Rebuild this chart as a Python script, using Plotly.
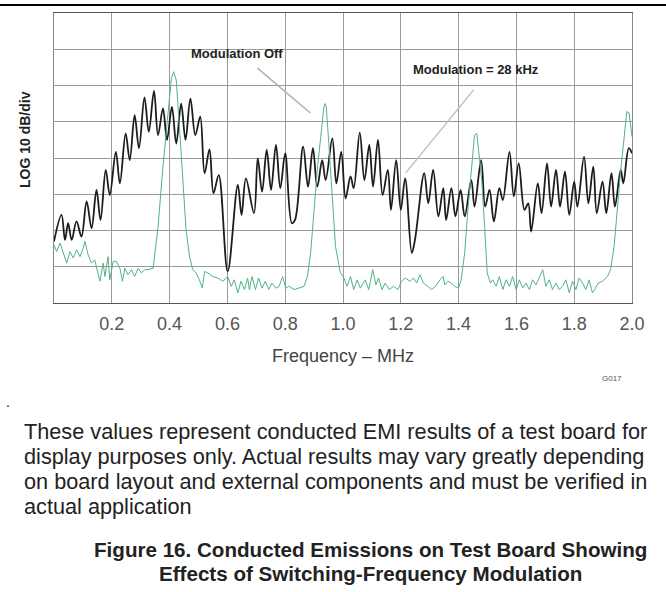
import plotly.graph_objects as go

# ---- data ----
freq_mod = [0.000, 0.026, 0.038, 0.049, 0.061, 0.078, 0.095, 0.113, 0.130, 0.147,
            0.161, 0.179, 0.193, 0.214, 0.228, 0.248, 0.262, 0.279, 0.294, 0.313,
            0.328, 0.346, 0.360, 0.377, 0.391, 0.408, 0.423, 0.440, 0.455, 0.472,
            0.489, 0.506, 0.521, 0.538, 0.552, 0.570, 0.601, 0.636, 0.649, 0.664,
            0.692, 0.705, 0.720, 0.736, 0.751, 0.768, 0.783, 0.800, 0.823, 0.834,
            0.862, 0.879, 0.896, 0.911, 0.928, 0.940, 0.963, 0.977, 0.994, 1.009,
            1.026, 1.037, 1.058, 1.074, 1.091, 1.104, 1.121, 1.137, 1.155, 1.166,
            1.184, 1.200, 1.215, 1.238, 1.249, 1.281, 1.295, 1.312, 1.330, 1.347,
            1.357, 1.375, 1.389, 1.407, 1.421, 1.444, 1.455, 1.478, 1.492, 1.507,
            1.522, 1.541, 1.553, 1.576, 1.591, 1.608, 1.628, 1.641, 1.651, 1.674,
            1.687, 1.706, 1.720, 1.737, 1.751, 1.768, 1.783, 1.800, 1.811, 1.834,
            1.849, 1.866, 1.878, 1.898, 1.911, 1.929, 1.941, 1.961, 1.970, 1.989,
            2.000]
level_mod = [17.0, 24.3, 17.4, 22.0, 17.4, 22.5, 18.3, 28.0, 20.6, 31.2,
             22.9, 36.7, 29.8, 41.7, 33.0, 46.8, 39.4, 51.8, 42.7, 56.7,
             47.2, 58.5, 46.3, 53.7, 45.0, 54.1, 44.0, 55.0, 45.0, 56.4,
             46.3, 51.4, 35.8, 42.4, 30.3, 35.3, 8.7, 32.6, 24.3, 34.4,
             24.8, 39.9, 30.7, 42.2, 31.2, 43.6, 31.7, 41.3, 22.0, 22.9,
             43.1, 32.1, 42.7, 32.1, 39.4, 33.9, 45.4, 33.0, 41.7, 28.9,
             34.9, 31.7, 47.0, 33.9, 43.6, 32.1, 45.0, 29.8, 36.7, 25.7,
             39.4, 25.7, 34.4, 13.8, 17.4, 35.8, 27.5, 36.7, 23.9, 31.7,
             22.9, 31.7, 23.9, 31.2, 23.9, 33.9, 26.6, 39.4, 26.6, 31.2,
             22.5, 31.7, 28.4, 41.7, 29.4, 38.5, 25.7, 27.5, 19.7, 33.0,
             24.8, 38.5, 26.6, 36.7, 26.6, 36.2, 24.3, 33.5, 26.6, 40.4,
             27.5, 37.6, 24.8, 33.5, 24.8, 35.8, 26.6, 36.7, 33.0, 42.7,
             41.3]

freq_off = [0.000, 0.009, 0.021, 0.032, 0.044, 0.055, 0.067, 0.078, 0.090, 0.101,
            0.107, 0.118, 0.130, 0.141, 0.153, 0.159, 0.170, 0.176, 0.187, 0.193,
            0.205, 0.216, 0.228, 0.237, 0.245, 0.256, 0.268, 0.279, 0.291, 0.302,
            0.314, 0.325, 0.343, 0.360, 0.377, 0.394, 0.406, 0.414, 0.423, 0.434,
            0.446, 0.457, 0.469, 0.480, 0.492, 0.503, 0.513, 0.521, 0.532, 0.549,
            0.567, 0.584, 0.601, 0.613, 0.624, 0.636, 0.647, 0.659, 0.670, 0.676,
            0.685, 0.697, 0.708, 0.720, 0.731, 0.743, 0.754, 0.768, 0.779, 0.791,
            0.802, 0.814, 0.831, 0.848, 0.865, 0.877, 0.888, 0.900, 0.911, 0.923,
            0.934, 0.938, 0.942, 0.951, 0.963, 0.974, 0.991, 1.003, 1.014, 1.026,
            1.037, 1.049, 1.060, 1.077, 1.089, 1.103, 1.114, 1.123, 1.135, 1.146,
            1.160, 1.175, 1.190, 1.203, 1.215, 1.232, 1.244, 1.255, 1.266, 1.278,
            1.293, 1.307, 1.320, 1.335, 1.347, 1.352, 1.363, 1.375, 1.386, 1.400,
            1.409, 1.421, 1.432, 1.444, 1.455, 1.463, 1.472, 1.480, 1.490, 1.499,
            1.510, 1.518, 1.530, 1.541, 1.553, 1.564, 1.576, 1.587, 1.599, 1.610,
            1.622, 1.633, 1.645, 1.656, 1.668, 1.679, 1.691, 1.702, 1.714, 1.725,
            1.737, 1.748, 1.760, 1.771, 1.783, 1.794, 1.806, 1.817, 1.829, 1.840,
            1.852, 1.863, 1.871, 1.883, 1.898, 1.915, 1.926, 1.938, 1.949, 1.961,
            1.972, 1.982, 1.990, 2.000]
level_off = [16.0, 14.2, 16.5, 13.8, 11.0, 14.2, 12.4, 14.7, 12.8, 15.1,
             17.0, 13.3, 11.0, 11.9, 8.3, 6.0, 11.0, 7.3, 12.8, 6.4,
             11.5, 11.5, 9.6, 6.0, 9.6, 7.8, 9.2, 7.3, 9.6, 8.3,
             9.2, 9.2, 9.6, 21.0, 37.6, 53.2, 61.9, 63.8, 61.5, 48.6,
             33.0, 20.2, 12.8, 9.2, 8.3, 6.4, 4.1, 8.7, 8.3, 7.3,
             6.9, 6.0, 7.3, 4.6, 6.4, 2.8, 6.0, 3.7, 6.9, 3.7,
             7.3, 3.7, 6.9, 4.1, 6.0, 3.7, 5.5, 4.1, 4.6, 7.3,
             4.1, 4.6, 3.7, 4.1, 4.6, 7.3, 13.8, 25.7, 36.7, 45.9,
             54.1, 55.0, 54.1, 44.0, 28.4, 15.6, 8.3, 6.9, 4.6, 7.3,
             3.7, 6.4, 4.1, 6.4, 3.7, 9.2, 5.0, 6.9, 3.7, 5.5,
             3.7, 4.6, 3.7, 6.0, 6.9, 6.0, 6.9, 5.5, 7.8, 5.5,
             4.6, 3.7, 4.6, 6.4, 7.3, 5.0, 6.0, 5.5, 4.6, 4.1,
             6.4, 13.8, 25.7, 36.7, 46.3, 46.8, 40.8, 33.9, 21.1, 8.3,
             5.5, 6.4, 4.6, 7.3, 3.7, 6.4, 4.6, 7.3, 3.7, 6.4,
             4.1, 5.5, 3.7, 6.4, 5.0, 6.9, 9.2, 4.6, 6.4, 3.7,
             5.5, 3.7, 4.6, 6.4, 2.8, 6.0, 3.7, 6.9, 5.5, 3.7,
             6.4, 2.8, 3.7, 5.5, 6.0, 7.3, 9.2, 15.6, 26.6, 36.7,
             45.0, 52.8, 52.4, 45.9]

tick_vals = [0.2, 0.4, 0.6, 0.8, 1.0, 1.2, 1.4, 1.6, 1.8, 2.0]
tick_text = ["0.2", "0.4", "0.6", "0.8", "1.0", "1.2", "1.4", "1.6", "1.8", "2.0"]

note_lines = [
    "These values represent conducted EMI results of a test board for",
    "display purposes only. Actual results may vary greatly depending",
    "on board layout and external components and must be verified in",
    "actual application",
]
caption_lines = [
    "Figure 16. Conducted Emissions on Test Board Showing",
    "Effects of Switching-Frequency Modulation",
]

# ---- figure ----
W, H = 666, 592
L, R, T, B = 54, 34, 13, 289
PW, PH = W - L - R, H - T - B


def px(x):
    return (x - L) / PW


def py(y):
    return (H - B - y) / PH


FONT = "Liberation Sans, Arial, Helvetica, sans-serif"

fig = go.Figure()
fig.add_trace(go.Scatter(x=freq_mod, y=level_mod, mode="lines",
                         line=dict(color="#1c1c1c", width=1.8, shape="spline", smoothing=1.0),
                         name="Modulation = 28 kHz", hoverinfo="skip"))
fig.add_trace(go.Scatter(x=freq_off, y=level_off, mode="lines",
                         line=dict(color="#52b385", width=1.0),
                         name="Modulation Off", hoverinfo="skip"))

fig.update_layout(
    width=W, height=H, margin=dict(l=L, r=R, t=T, b=B, pad=0),
    paper_bgcolor="white", plot_bgcolor="white", showlegend=False,
    font=dict(family=FONT, color="#222"),
    xaxis=dict(range=[0, 2.0], tickvals=tick_vals, ticktext=tick_text,
               showgrid=True, gridcolor="#9a9a9a", gridwidth=1,
               showline=True, linecolor="#555", linewidth=1, mirror=True,
               ticks="outside", ticklen=4, tickcolor="rgba(0,0,0,0)",
               tickfont=dict(size=18, color="#555", family=FONT), zeroline=False),
    yaxis=dict(range=[0, 80], dtick=10, showticklabels=False,
               showgrid=True, gridcolor="#9a9a9a", gridwidth=1,
               showline=True, linecolor="#888", linewidth=1, mirror=True,
               zeroline=False),
)

shapes = [
    dict(type="line", xref="paper", yref="paper", x0=px(0), x1=px(W), y0=py(5), y1=py(5),
         line=dict(color="black", width=2)),
    dict(type="line", xref="x", yref="y", x0=0.704, y0=64.8, x1=0.887, y1=52.4,
         line=dict(color="#b0b0b0", width=1.5)),
    dict(type="line", xref="x", yref="y", x0=1.452, y0=58.8, x1=1.217, y1=35.9,
         line=dict(color="#c0c0c0", width=1.5)),
]
fig.update_layout(shapes=shapes)

ann = []
ann.append(dict(x=0.634, y=68.7, xref="x", yref="y", text="<b>Modulation Off</b>",
                xanchor="center", showarrow=False, font=dict(size=13, color="#222", family=FONT)))
ann.append(dict(x=1.459, y=64.3, xref="x", yref="y", text="<b>Modulation = 28 kHz</b>",
                xanchor="center", showarrow=False, font=dict(size=13, color="#222", family=FONT)))
ann.append(dict(x=px(25), y=py(140), xref="paper", yref="paper", text="<b>LOG 10 dB/div</b>",
                textangle=-90, xanchor="center", yanchor="middle", showarrow=False,
                font=dict(size=14, color="#222", family=FONT)))
ann.append(dict(x=0.5, y=py(356), xref="paper", yref="paper", text="Frequency – MHz",
                xanchor="center", yanchor="middle", showarrow=False,
                font=dict(size=18, color="#444", family=FONT)))
ann.append(dict(x=px(612), y=py(378), xref="paper", yref="paper", text="G017",
                xanchor="center", yanchor="middle", showarrow=False,
                font=dict(size=8, color="#555", family=FONT)))
ann.append(dict(x=px(8), y=py(402), xref="paper", yref="paper", text=".",
                xanchor="center", yanchor="middle", showarrow=False,
                font=dict(size=14, color="#222", family=FONT)))
for i, line in enumerate(note_lines):
    ann.append(dict(x=px(22), y=py(432 + 24.7 * i), xref="paper", yref="paper", text=line,
                    xanchor="left", yanchor="middle", showarrow=False,
                    font=dict(size=21.7, color="#222", family=FONT)))
for i, line in enumerate(caption_lines):
    ann.append(dict(x=px(370), y=py(549 + 24 * i), xref="paper", yref="paper",
                    text="<b>" + line + "</b>", xanchor="center", yanchor="middle",
                    showarrow=False, font=dict(size=20.6, color="#222", family=FONT)))
fig.update_layout(annotations=ann)

fig.write_html("out.html", config={"displayModeBar": False},
               post_script="document.body.style.margin='0px';")
